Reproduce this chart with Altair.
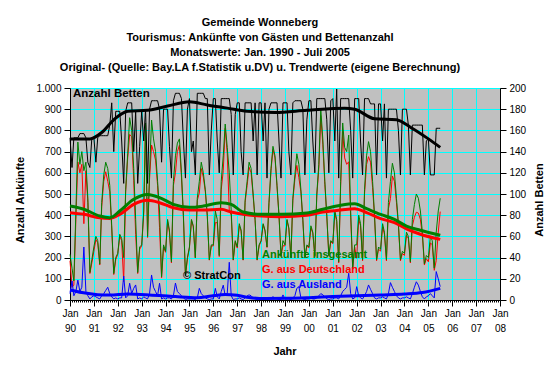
import altair as alt
import pandas as pd

# ---------------- data (monthly, Jan 1990 - Jul 2005) ----------------
gesamt = [
    215, 150, 90, 420, 745, 640, 700, 610, 650, 480, 130, 190,   # 1990
    250, 300, 280, 170, 460, 590, 650, 620, 540, 350, 125, 200,  # 1991
    220, 310, 290, 200, 520, 690, 860, 800, 620, 380, 130, 250,  # 1992
    260, 420, 835, 300, 600, 849, 760, 700, 560, 420, 110, 260,  # 1993
    230, 380, 330, 180, 560, 680, 740, 760, 600, 400, 115, 200,  # 1994
    250, 380, 350, 200, 480, 560, 650, 600, 520, 400, 190, 260,  # 1995
    260, 420, 380, 210, 560, 680, 830, 720, 600, 420, 190, 280,  # 1996
    250, 360, 330, 190, 470, 560, 650, 620, 500, 380, 190, 260,  # 1997
    280, 360, 330, 250, 460, 620, 725, 680, 540, 400, 210, 280,  # 1998
    260, 380, 340, 200, 480, 590, 690, 640, 520, 380, 200, 260,  # 1999
    250, 350, 320, 210, 500, 640, 900, 760, 560, 400, 210, 280,  # 2000
    270, 420, 380, 180, 560, 835, 720, 700, 778, 420, 150, 260,  # 2001
    260, 400, 360, 190, 520, 680, 747, 700, 560, 400, 190, 250,  # 2002
    240, 360, 320, 190, 460, 560, 645, 600, 480, 360, 190, 230,  # 2003
    220, 320, 300, 180, 380, 450, 500, 480, 420, 320, 170, 210,  # 2004
    200, 300, 280, 150, 320, 420, 480,                           # 2005
]
deutschland = [
    185, 60, 70, 380, 651, 600, 640, 360, 610, 460, 125, 175,
    230, 285, 270, 165, 440, 560, 605, 560, 510, 335, 120, 190,
    215, 300, 280, 87, 510, 670, 781, 770, 565, 309, 125, 240,
    255, 405, 825, 295, 570, 731, 700, 660, 540, 341, 105, 250,
    225, 370, 320, 175, 540, 600, 700, 730, 580, 390, 113, 195,
    245, 375, 345, 198, 470, 505, 620, 580, 510, 395, 188, 255,
    255, 365, 365, 205, 520, 610, 810, 690, 422, 400, 188, 275,
    245, 350, 325, 188, 460, 540, 626, 600, 490, 375, 188, 255,
    278, 355, 325, 248, 455, 610, 710, 670, 535, 398, 208, 256,
    255, 375, 335, 198, 470, 570, 635, 577, 510, 375, 198, 255,
    245, 340, 315, 205, 490, 620, 870, 735, 545, 395, 208, 275,
    265, 410, 370, 175, 540, 795, 670, 640, 652, 390, 145, 250,
    197, 380, 350, 185, 500, 640, 676, 650, 530, 390, 185, 240,
    230, 345, 310, 185, 430, 478, 585, 560, 460, 350, 185, 220,
    210, 305, 290, 175, 350, 390, 414, 410, 380, 305, 165, 195,
    180, 270, 260, 140, 186, 320, 417,
]
ausland = [
    30, 90, 20, 40, 94, 40, 60, 250, 40, 20, 5, 15,
    20, 15, 10, 5, 20, 30, 45, 60, 30, 15, 5, 10,
    5, 10, 10, 113, 10, 20, 79, 30, 55, 71, 5, 10,
    5, 15, 10, 5, 30, 118, 60, 40, 20, 79, 5, 10,
    5, 10, 10, 5, 20, 80, 40, 30, 20, 10, 2, 5,
    5, 5, 5, 2, 10, 55, 30, 20, 10, 5, 2, 5,
    5, 55, 15, 5, 40, 70, 20, 30, 178, 20, 2, 5,
    5, 10, 5, 2, 10, 20, 24, 20, 10, 5, 2, 5,
    2, 5, 5, 2, 5, 10, 15, 10, 5, 2, 2, 24,
    5, 5, 5, 2, 10, 20, 55, 63, 10, 5, 2, 5,
    5, 10, 5, 5, 10, 20, 30, 25, 15, 5, 2, 5,
    5, 10, 10, 5, 20, 40, 50, 60, 126, 30, 5, 10,
    63, 20, 10, 5, 20, 40, 71, 50, 30, 10, 5, 10,
    10, 15, 10, 5, 30, 82, 60, 40, 20, 10, 5, 10,
    10, 15, 10, 5, 30, 60, 86, 70, 40, 15, 5, 15,
    20, 30, 20, 10, 134, 100, 63,
]
betten = [
    153, 125, 153, 153, 153, 157, 157, 157, 153, 130, 125, 153,
    153, 130, 153, 155, 155, 155, 155, 155, 165, 186, 140, 178,
    178, 178, 150, 110, 178, 186, 186, 186, 140, 178, 110, 145,
    178, 150, 180, 110, 180, 188, 188, 188, 188, 180, 130, 180,
    180, 180, 145, 115, 188, 195, 195, 195, 190, 150, 115, 180,
    190, 140, 150, 118, 195, 195, 195, 195, 190, 190, 118, 160,
    190, 190, 150, 120, 190, 190, 190, 190, 190, 175, 118, 175,
    186, 186, 140, 118, 186, 186, 186, 186, 150, 186, 118, 186,
    186, 150, 186, 115, 180, 186, 186, 186, 186, 150, 115, 186,
    186, 186, 140, 118, 186, 188, 188, 188, 188, 180, 118, 170,
    188, 188, 150, 120, 190, 190, 190, 190, 190, 170, 120, 188,
    190, 150, 199, 115, 190, 190, 190, 190, 190, 160, 115, 190,
    190, 190, 150, 118, 190, 190, 190, 185, 185, 185, 118, 185,
    185, 150, 185, 115, 180, 180, 180, 180, 180, 160, 118, 180,
    180, 180, 165, 118, 165, 165, 165, 165, 165, 165, 118, 150,
    152, 118, 118, 118, 162, 162, 162,
]
months = [f"{1990 + i // 12}-{i % 12 + 1:02d}-01" for i in range(len(gesamt))]

# trend values (eigene Berechnung) at read-off dates
trend_dates = ["1990-01-01", "1990-08-01", "1991-04-01", "1991-09-01", "1992-02-01",
               "1992-09-01", "1993-04-01", "1993-10-01", "1994-05-01", "1995-01-01",
               "1995-08-01", "1996-05-01", "1996-10-01", "1997-04-01", "1998-01-01",
               "1998-11-01", "1999-12-01", "2000-08-01", "2001-05-01", "2001-12-01",
               "2002-06-01", "2003-01-01", "2003-08-01", "2004-02-01", "2004-09-01",
               "2005-07-01"]
trend_gesamt = [443, 428, 396, 388, 420, 475, 498, 483, 451, 437, 443, 459, 451, 415,
                404, 404, 410, 428, 447, 454, 431, 404, 380, 349, 329, 305]
trend_de = [412, 404, 388, 385, 404, 451, 470, 459, 435, 424, 424, 428, 415, 404,
            396, 393, 400, 415, 424, 431, 412, 384, 365, 336, 310, 286]
aus_dates = ["1990-01-01", "1990-07-01", "1991-03-01", "1991-09-01", "1992-06-01",
             "1993-05-01", "1994-06-01", "1995-05-01", "1995-12-01", "1996-07-01",
             "1997-01-01", "1997-07-01", "1998-03-01", "1999-03-01", "2000-01-01",
             "2001-01-01", "2002-01-01", "2003-01-01", "2004-01-01", "2004-10-01",
             "2005-07-01"]
trend_aus = [47, 35, 25, 23, 28, 24, 16, 11, 19, 26, 22, 12, 7, 8, 11, 16, 20, 24, 28, 35, 55]
bett_dates = ["1990-01-01", "1990-11-01", "1991-05-01", "1991-11-01", "1992-06-01",
              "1993-04-01", "1994-02-01", "1995-01-01", "1995-10-01", "1996-08-01",
              "1997-06-01", "1998-08-01", "1999-12-01", "2001-07-01", "2001-12-01",
              "2002-10-01", "2003-09-01", "2004-04-01", "2005-01-01", "2005-07-01"]
trend_betten = [152, 152, 158, 170, 178, 179, 183, 187, 184, 181, 178, 177, 179, 181,
                180, 171, 170, 163, 152, 144]

title_lines = [
    "Gemeinde Wonneberg",
    "Tourismus: Ankünfte von Gästen und Bettenanzahl",
    "Monatswerte: Jan. 1990 - Juli 2005",
    "Original- (Quelle: Bay.LA f.Statistik u.DV) u. Trendwerte (eigene Berechnung)",
]

# ---------------- tables ----------------
monthly = pd.DataFrame({"date": months, "gesamt": gesamt, "de": deutschland,
                        "aus": ausland, "betten": betten})
tr = pd.DataFrame({"date": trend_dates, "gesamt": trend_gesamt, "de": trend_de})
tra = pd.DataFrame({"date": aus_dates, "aus": trend_aus})
trb = pd.DataFrame({"date": bett_dates, "betten": trend_betten})
one = pd.DataFrame({"k": [0]})

FONT = "Liberation Sans"
GREEN, RED, BLUE = "#008000", "#FF0000", "#0000FF"
is_jan = "utcmonth(datum.value) == 0"

x_axis = alt.Axis(
    tickCount={"interval": "month", "step": 1},
    labelExpr=f"{is_jan} ? ['Jan', utcFormat(datum.value, '%y')] : ''",
    labelOverlap=False, labelFlush=False, labelLineHeight=15,
    labelBaseline="top", labelPadding=2, labelFont=FONT, labelFontSize=10,
    labelColor="black",
    tickSize={"condition": {"test": is_jan, "value": 6}, "value": 2},
    tickColor="black", domainColor="black",
    grid=True, gridColor="#00FFFF",
    gridOpacity={"condition": {"test": is_jan, "value": 1}, "value": 0},
    title=None,
)


def X():
    return alt.X("date:T", axis=x_axis, title=None,
                 scale=alt.Scale(type="utc", nice=False,
                                 domain=[alt.DateTime(year=1990, month=1, date=1, utc=True),
                                         alt.DateTime(year=2008, month=1, date=1, utc=True)]))


left_axis = alt.Axis(values=list(range(0, 1001, 100)), orient="left",
                     labelExpr="replace(format(datum.value, ','), ',', '.')",
                     grid=True, gridColor="#00FFFF", tickSize=6, labelPadding=3,
                     labelFont=FONT, labelFontSize=10, labelColor="black",
                     tickColor="black", domainColor="black", title=None)
right_axis = alt.Axis(values=list(range(0, 201, 20)), orient="right", grid=False,
                      tickSize=6, labelPadding=3, labelFont=FONT, labelFontSize=10,
                      labelColor="black", tickColor="black", domainColor="black",
                      title=None)


def YL(field):
    return alt.Y(f"{field}:Q", axis=left_axis,
                 scale=alt.Scale(domain=[0, 1000], nice=False))


def YR(field):
    return alt.Y(f"{field}:Q", axis=right_axis,
                 scale=alt.Scale(domain=[0, 200], nice=False))


base = alt.Chart(monthly)
red_thin = base.mark_line(color=RED, strokeWidth=1).encode(x=X(), y=YL("de"))
green_thin = base.mark_line(color=GREEN, strokeWidth=1).encode(x=X(), y=YL("gesamt"))
blue_thin = base.mark_line(color=BLUE, strokeWidth=1).encode(x=X(), y=YL("aus"))
red_tr = alt.Chart(tr).mark_line(color=RED, strokeWidth=3, interpolate="monotone").encode(
    x=X(), y=YL("de"))
green_tr = alt.Chart(tr).mark_line(color=GREEN, strokeWidth=3, interpolate="monotone").encode(
    x=X(), y=YL("gesamt"))
blue_tr = alt.Chart(tra).mark_line(color=BLUE, strokeWidth=3, interpolate="monotone").encode(
    x=X(), y=YL("aus"))

left = alt.layer(red_thin, green_thin, blue_thin, red_tr, green_tr, blue_tr)

bett_thin = base.mark_line(color="black", strokeWidth=1).encode(x=X(), y=YR("betten"))
bett_tr = alt.Chart(trb).mark_line(color="black", strokeWidth=3, interpolate="monotone").encode(
    x=X(), y=YR("betten"))
right = alt.layer(bett_thin, bett_tr)


def txt(s, x, y, color="black", size=11, align="left", angle=0):
    kw = dict(font=FONT, fontSize=size, fontWeight="bold", color=color,
              align=align, baseline="middle")
    if angle:
        kw["angle"] = angle
    return alt.Chart(one).mark_text(**kw).encode(
        x=alt.value(x), y=alt.value(y), text=alt.value(s))


texts = [txt(s, 190, -65 + 15 * i, align="center") for i, s in enumerate(title_lines)]
texts += [
    txt("Anzahl Betten", 3, 6, size=11.5),
    txt("Ankünfte insgesamt", 192, 167, color=GREEN),
    txt("G. aus Deutschland", 192, 182, color=RED),
    txt("G. aus Ausland", 192, 197, color=BLUE),
    txt("© StratCon", 113, 188),
    txt("Anzahl Ankünfte", -49, 112, align="center", angle=270),
    txt("Anzahl Betten", 470, 112, align="center", angle=270),
    txt("Jahr", 215, 264, align="center"),
]
labels = alt.layer(*texts)

chart = alt.layer(left, right, labels).resolve_scale(y="independent").properties(
    width=430, height=212,
    autosize=alt.AutoSizeParams(type="none"),
    padding={"left": 62, "top": 80, "right": 52, "bottom": 66},
    background="white",
).configure_view(fill="#C0C0C0", stroke="#808080")

chart.save("out.html", embed_options={"renderer": "svg", "actions": False})
